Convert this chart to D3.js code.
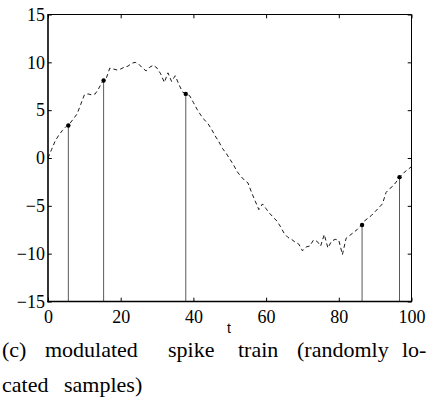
<!DOCTYPE html>
<html>
<head>
<meta charset="utf-8">
<script src="https://cdn.jsdelivr.net/npm/d3@7"></script>
</head>
<body style="margin:0">
<svg id="svg" width="429" height="406"></svg>
<script>
// underlying signal (dashed)
const tSignal = [0,1,2,3,4,5,6,7,8,9,10,11,12,13,14,15,16,17,18,19,20,21,22,23,24,25,26,27,28,29,30,
  31,32,33,34,35,36,37,38,39,40,41,42,43,44,45,46,47,48,49,50,51,52,53,54,55,56,57,58,59,60,
  61,62,63,64,65,66,67,68,69,70,71,72,73,74,75,76,77,78,79,80,81,82,83,84,85,86,87,88,89,90,
  91,92,93,94,95,96,97,98,99,100];
const signal = [0.0,0.9,1.8,2.4,2.9,3.3,3.6,4.1,4.6,5.6,6.6,6.7,6.6,6.7,7.3,8.0,8.3,9.4,9.3,9.2,9.3,
  9.5,9.6,9.9,10.0,9.8,9.4,9.1,9.5,9.7,9.4,8.8,7.9,8.9,8.0,8.6,7.7,6.9,6.7,6.5,5.8,
  5.1,4.5,4.0,3.6,3.0,2.3,1.7,1.0,0.5,-0.1,-0.7,-1.4,-1.9,-2.3,-2.6,-3.6,-4.5,-5.4,-4.8,-5.3,
  -5.8,-6.2,-6.6,-7.2,-7.9,-8.3,-8.5,-8.8,-9.0,-9.7,-9.3,-9.2,-8.6,-8.7,-9.2,-8.0,-9.4,-8.7,-8.5,-8.6,
  -10.1,-8.4,-8.1,-7.8,-7.5,-7.1,-6.6,-6.3,-6.0,-5.6,-5.2,-4.8,-3.6,-3.2,-2.9,-2.4,-1.9,-1.5,-1.2,-0.9];

// randomly located samples (spikes)
const tSpikes = [5.6, 15.3, 37.9, 86.4, 96.7];
const spikes = [3.4, 8.1, 6.7, -7.0, -2.0];

const xTicks = [0, 20, 40, 60, 80, 100];
const yTicks = [-15, -10, -5, 0, 5, 10, 15];

const mL = 48, mR = 411.5, mT = 14.5, mB = 301.5;
const fontSerif = "'Times New Roman'";

const svg = d3.select("#svg");

// caption and labels first (plain text, as in a simple page)
const line1 = [["(c)", 2], ["modulated", 45], ["spike", 168], ["train", 238], ["(randomly", 297], ["lo-", 402]];
const line2 = [["cated", 2], ["samples)", 64]];

svg.selectAll("text.l1")
  .data(line1)
  .enter().append("text")
  .attr("class", "l1")
  .attr("x", d => d[1]).attr("y", 357)
  .style("font-family", fontSerif)
  .style("font-size", "22px")
  .text(d => d[0]);
svg.selectAll("text.l2")
  .data(line2)
  .enter().append("text")
  .attr("class", "l2")
  .attr("x", d => d[1]).attr("y", 391.5)
  .style("font-family", fontSerif)
  .style("font-size", "22px")
  .text(d => d[0]);

const x = d3.scaleLinear().domain([0, 100]).range([mL, mR]);
const y = d3.scaleLinear().domain([-15, 15]).range([mB, mT]);

// spikes
svg.append("g").selectAll("line")
  .data(tSpikes)
  .enter().append("line")
  .attr("x1", d => x(d)).attr("x2", d => x(d))
  .attr("y1", (d, i) => y(spikes[i]))
  .attr("y2", y(-15))
  .attr("stroke", "#5a5a5a")
  .attr("stroke-width", 1);

// dashed signal
const line = d3.line()
  .x((d, i) => x(tSignal[i]))
  .y(d => y(d));

svg.append("path")
  .datum(signal)
  .attr("d", line)
  .attr("fill", "none")
  .attr("stroke", "#000")
  .attr("stroke-width", 0.9)
  .attr("stroke-dasharray", "4,3");

svg.append("g").selectAll("circle")
  .data(tSpikes)
  .enter().append("circle")
  .attr("cx", d => x(d))
  .attr("cy", (d, i) => y(spikes[i]))
  .attr("r", 2.2)
  .attr("fill", "#000");

// axes (inward ticks on all sides)
const tk = 3.8;
const gx = svg.append("g").attr("transform", `translate(0,${mB})`)
  .call(d3.axisBottom(x).tickValues(xTicks).tickSize(-tk).tickPadding(8.5));
const gy = svg.append("g").attr("transform", `translate(${mL},0)`)
  .call(d3.axisLeft(y).tickValues(yTicks).tickSize(-tk).tickPadding(3));
const gt = svg.append("g").attr("transform", `translate(0,${mT})`)
  .call(d3.axisTop(x).tickValues(xTicks).tickSize(-tk).tickFormat(""));
const gr = svg.append("g").attr("transform", `translate(${mR},0)`)
  .call(d3.axisRight(y).tickValues(yTicks).tickSize(-tk).tickFormat(""));

[gx, gy, gt, gr].forEach(g => {
  g.attr("font-family", null).attr("font-size", null);
  g.select(".domain").remove();
  g.selectAll(".tick line").attr("stroke", "#000").attr("stroke-width", 1);
  g.selectAll("text")
    .attr("fill", "#000")
    .style("font-family", fontSerif)
    .style("font-size", "18px");
});

// box
svg.append("line").attr("x1", mL).attr("x2", mR).attr("y1", mT).attr("y2", mT)
  .attr("stroke", "#000").attr("stroke-width", 1);
svg.append("line").attr("x1", mR).attr("x2", mR).attr("y1", mT).attr("y2", mB)
  .attr("stroke", "#000").attr("stroke-width", 1);
svg.append("line").attr("x1", mL).attr("x2", mL).attr("y1", mT - 0.5).attr("y2", mB + 0.8)
  .attr("stroke", "#000").attr("stroke-width", 1.6);
svg.append("line").attr("x1", mL - 0.8).attr("x2", mR + 0.5).attr("y1", mB).attr("y2", mB)
  .attr("stroke", "#000").attr("stroke-width", 1.6);

// x label
svg.append("text")
  .attr("x", x(49.8)).attr("y", 333)
  .attr("text-anchor", "middle")
  .style("font-family", "'Liberation Sans'")
  .style("font-size", "14px")
  .text("t");
</script>
</body>
</html>
